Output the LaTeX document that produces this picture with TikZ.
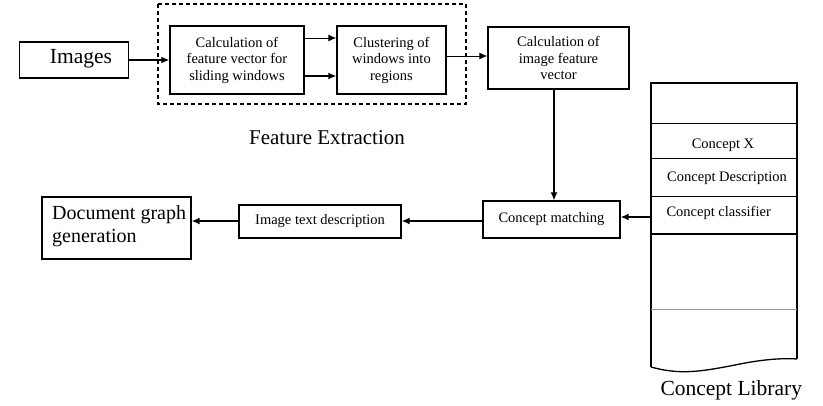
\documentclass[tikz,border=0pt]{standalone}
\usepackage{fontspec}
\setmainfont{Liberation Serif}
\usetikzlibrary{arrows.meta}
\begin{document}
\begin{tikzpicture}[x=1pt,y=-1pt,
  box/.style={draw,line width=1.3pt,inner sep=0pt,align=center},
  small/.style={font=\fontsize{14.5}{16.5}\selectfont},
  big/.style={font=\fontsize{21}{23.5}\selectfont},
  arr/.style={line width=1.4pt,-{Latex[length=8pt,width=7pt]}},
  thinarr/.style={line width=1pt,-{Latex[length=8pt,width=7pt]}}]
\useasboundingbox (0,0) rectangle (823,405);
% feature extraction group
\draw[line width=1.2pt,dash pattern=on 4pt off 3pt] (158,4) rectangle (466,104);
\node[box,minimum width=109pt,minimum height=36pt] (img) at (74,60) {};
\node[big,font=\fontsize{21.5}{24}\selectfont] (imgt) at (81,59) {Images};
\node[box,small,minimum width=134pt,minimum height=68pt] (calc) at (237,60) {Calculation of\\feature vector for\\sliding windows};
\node[box,small,minimum width=109pt,minimum height=68pt] (clus) at (391.5,60) {Clustering of\\windows into\\regions};
\node[box,small,minimum width=141pt,minimum height=62pt] (civ) at (558.5,58) {Calculation of\\image feature\\vector};
\node[big] (fe) at (327,138) {Feature Extraction};
\node[box,small,minimum width=137pt,minimum height=37pt] (cm) at (551.5,219.5) {Concept matching};
\node[box,small,minimum width=162pt,minimum height=33pt] (itd) at (320,221.5) {Image text description};
\node[box,minimum width=149pt,minimum height=62pt,inner sep=0pt] (dg) at (116.5,228) {};
\node[font=\fontsize{20}{23}\selectfont,align=left,anchor=north west,inner sep=0pt] (dgt) at (52,205) {Document graph\\generation};
% concept library
\draw[line width=1.3pt] (651,367) -- (651,83) -- (797,83) -- (797,359);
\draw[line width=1.3pt] (651,367) .. controls (680,375) and (700,372) .. (740,364) .. controls (765,359) and (785,358) .. (797,359);
\draw[line width=1.3pt] (651,123.5) -- (797,123.5);
\draw[line width=0.9pt] (651,158) -- (797,158);
\draw[line width=0.9pt] (651,196) -- (797,196);
\draw[line width=1.3pt] (651,234) -- (797,234);
\draw[line width=0.9pt,black!40] (651,309) -- (797,309);
\coordinate (lib) at (651,217);
\node[small] (cx) at (723,145) {Concept X};
\node[small] (cd) at (727,178) {Concept Description};
\node[small,anchor=west] (cc) at (663,213) {Concept classifier};
\node[big,anchor=west,font=\fontsize{21.5}{24}\selectfont] (cl) at (657,390) {Concept Library};
% connectors
\draw[arr] (img.east) -- (calc.west);
\draw[thinarr] (calc.east |- 0,38) -- (clus.west |- 0,38);
\draw[arr] (calc.east |- 0,76) -- (clus.west |- 0,76);
\draw[thinarr] (clus.east |- 0,56) -- (civ.west |- 0,56);
\draw[arr] (civ.south -| 554,0) -- (cm.north -| 554,0);
\draw[arr] (lib) -- (cm.east |- lib);
\draw[arr] (cm.west |- 0,221) -- (itd.east |- 0,221);
\draw[arr] (itd.west |- 0,221) -- (dg.east |- 0,221);
\end{tikzpicture}
\end{document}
